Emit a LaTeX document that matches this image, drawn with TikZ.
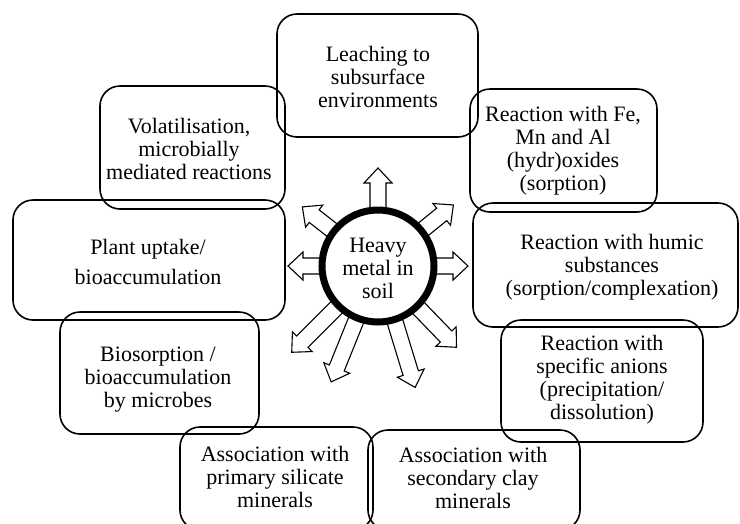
\documentclass[tikz,border=0pt]{standalone}
\usepackage{fontspec}
\setmainfont{Liberation Serif}
\usetikzlibrary{calc}
\begin{document}
\begin{tikzpicture}[x=1pt,y=-1pt,
  box/.style={draw, line width=1.6pt, rounded corners=20pt, inner sep=0pt},
  txt/.style={align=center, inner sep=0pt, font=\fontsize{22}{23}\selectfont},
  blockarrow/.style={draw, line width=1.1pt, fill=white, line join=miter},
  hub/.style={circle, draw, line width=7pt, fill=white, minimum size=112pt, inner sep=0pt}]
\useasboundingbox (0,0) rectangle (740,523);
\clip (0,0) rectangle (740,523);
\coordinate (cen) at (378,266);
\newcommand\hmarrow[2]{%
  \begin{scope}[shift={(cen)}, rotate=#1]
    \draw[blockarrow] (40,-8) -- (#2-15,-8) -- (#2-15,-14) -- (#2,0) -- (#2-15,14) -- (#2-15,8) -- (40,8) -- cycle;
  \end{scope}}
% boxes
\node[box, minimum width=201pt, minimum height=123pt] (lea) at (377.5,75.5) {};
\node[txt] (leat) at (378,77) {Leaching to\\subsurface\\environments};
\node[box, minimum width=185pt, minimum height=123pt] (vol) at (192.5,147.5) {};
\node[txt] (volt) at (189,149) {Volatilisation,\\microbially\\mediated reactions};
\node[box, minimum width=187pt, minimum height=123pt] (fe) at (563.5,150.5) {};
\node[txt] (fet) at (563,151) {Reaction with Fe,\\Mn and Al\\(hydr)oxides\\(sorption)};
\node[box, minimum width=272pt, minimum height=120pt] (pla) at (149,260) {};
\node[txt] (plat) at (148,262) {Plant uptake/\\[7pt]bioaccumulation};
\node[box, minimum width=265pt, minimum height=124pt] (hum) at (605.5,265) {};
\node[txt] (humt) at (612,267) {Reaction with humic\\substances\\(sorption/complexation)};
\node[box, minimum width=199pt, minimum height=122pt] (bio) at (159.5,373) {};
\node[txt] (biot) at (158,380) {Biosorption /\\bioaccumulation\\by microbes};
\node[box, minimum width=202pt, minimum height=122pt] (ani) at (602,381) {};
\node[txt] (anit) at (602,380) {Reaction with\\specific anions\\(precipitation/\\dissolution)};
\node[box, minimum width=193pt, minimum height=103pt] (pri) at (276.5,478.5) {};
\node[txt] (prit) at (275,477) {Association with\\primary silicate\\minerals};
\node[box, minimum width=212pt, minimum height=100pt] (sec) at (474,480) {};
\node[txt] (sect) at (473,478) {Association with\\secondary clay\\minerals};
% arrows
\hmarrow{90}{98}
\hmarrow{39}{97}
\hmarrow{0}{90}
\hmarrow{142}{96}
\hmarrow{180}{90}
\hmarrow{225}{122}
\hmarrow{248}{125}
\hmarrow{287}{127}
\hmarrow{314}{113}
% hub
\node[hub] (hm) at (cen) {};
\node[txt] (hmt) at (378,268) {Heavy\\metal in\\soil};
\end{tikzpicture}
\end{document}
